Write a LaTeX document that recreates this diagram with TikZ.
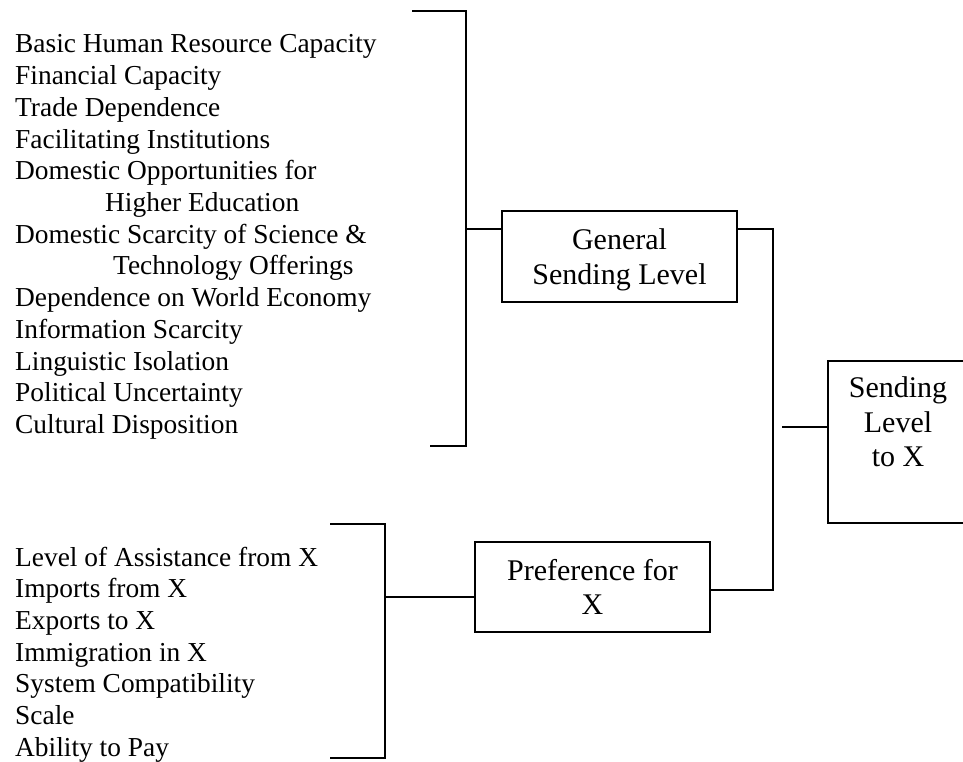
\documentclass[tikz,border=0pt]{standalone}
\usepackage{fontspec}
\setmainfont{Liberation Serif}
\begin{document}
\begin{tikzpicture}[x=1pt,y=-1pt,
  conn/.style={line width=1.4pt},
  item/.style={anchor=base west, inner sep=0pt, font=\fontsize{27.4}{31.7}\selectfont},
  boxshape/.style={draw, line width=1.4pt, inner sep=0pt},
  boxtext/.style={align=center, inner sep=0pt, font=\fontsize{30}{34.5}\selectfont}]
\useasboundingbox (0,0) rectangle (963,762);
% first list
\foreach \xx/\t [count=\i from 0] in {15/Basic Human Resource Capacity, 15/Financial Capacity, 15/Trade Dependence, 15/Facilitating Institutions, 15/Domestic Opportunities for, 105/Higher Education, 15/Domestic Scarcity of Science \&, 113/Technology Offerings, 15/Dependence on World Economy, 15/Information Scarcity, 15/Linguistic Isolation, 15/Political Uncertainty, 15/Cultural Disposition}
  \node[item] (f\i) at (\xx, 53+31.7*\i) {\t};
% second list
\foreach \t [count=\i from 0] in {Level of Assistance from X, Imports from X, Exports to X, Immigration in X, System Compatibility, Scale, Ability to Pay}
  \node[item] (p\i) at (15, 566+31.7*\i) {\t};
% boxes
\node[boxshape, minimum width=235pt, minimum height=91pt] (gsl) at (619.5,256.5) {};
\node[boxtext] (gslt) at (619.5,260) {General\\Sending Level};
\node[boxshape, minimum width=235pt, minimum height=90pt] (pref) at (592.5,587) {};
\node[boxtext] (preft) at (592.5,587) {Preference for\\X};
\node[boxshape, minimum width=140pt, minimum height=162pt] (sl) at (898,442) {};
\node[boxtext] (slt) at (898,422) {Sending\\Level\\to X};
% bracket coordinates
\coordinate (b1a) at (412,11);
\coordinate (b1b) at (466,11);
\coordinate (b1c) at (466,446);
\coordinate (b1d) at (430,446);
\coordinate (b1m) at (466,229);
\coordinate (b2a) at (330,524);
\coordinate (b2b) at (385,524);
\coordinate (b2c) at (385,758);
\coordinate (b2d) at (330,758);
\coordinate (b2m) at (385,597);
\coordinate (j1) at (773,229);
\coordinate (j2) at (773,590);
\coordinate (j3) at (782,427);
% connectors
\draw[conn] (b1a) -- (b1b) -- (b1c) -- (b1d);
\draw[conn] (b1m) -- (b1m -| gsl.west);
\draw[conn] (b2a) -- (b2b) -- (b2c) -- (b2d);
\draw[conn] (b2m) -- (b2m -| pref.west);
\draw[conn] (j1 -| gsl.east) -- (j1) -- (j2) -- (j2 -| pref.east);
\draw[conn] (j3) -- (j3 -| sl.west);
\end{tikzpicture}
\end{document}
